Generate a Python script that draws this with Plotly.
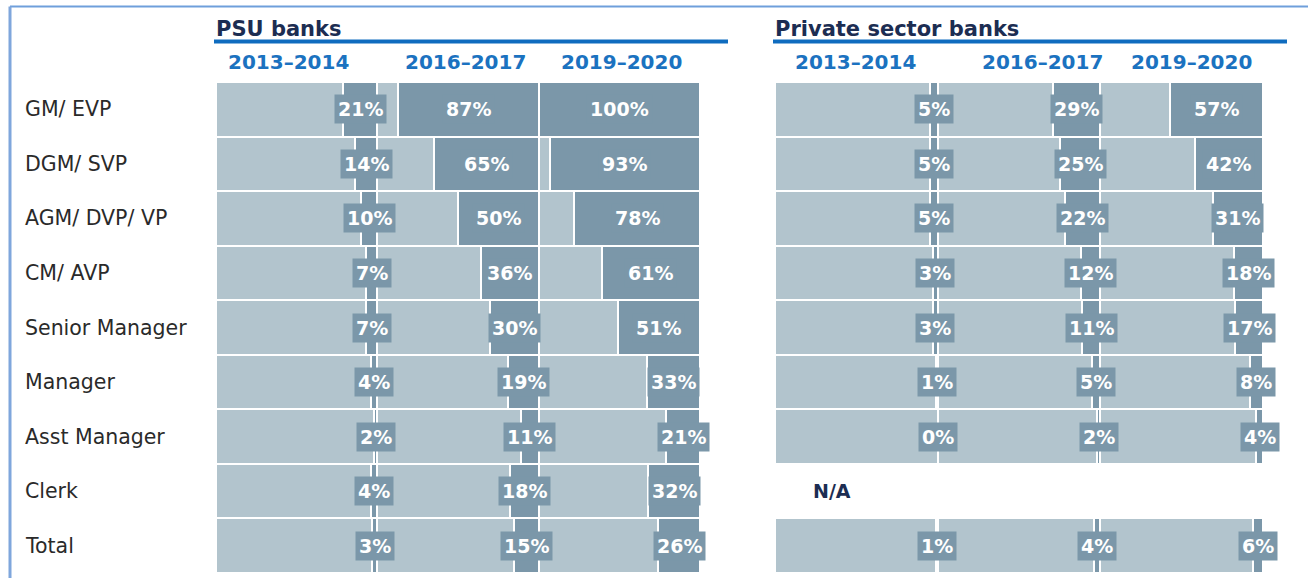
import plotly.graph_objects as go

rows = ["GM/ EVP", "DGM/ SVP", "AGM/ DVP/ VP", "CM/ AVP", "Senior Manager",
        "Manager", "Asst Manager", "Clerk", "Total"]
periods = ["2013–2014", "2016–2017", "2019–2020"]
panels = ["PSU banks", "Private sector banks"]

psu_2013 = [21, 14, 10, 7, 7, 4, 2, 4, 3]
psu_2016 = [87, 65, 50, 36, 30, 19, 11, 18, 15]
psu_2019 = [100, 93, 78, 61, 51, 33, 21, 32, 26]
pvt_2013 = [5, 5, 5, 3, 3, 1, 0, None, 1]
pvt_2016 = [29, 25, 22, 12, 11, 5, 2, None, 4]
pvt_2019 = [57, 42, 31, 18, 17, 8, 4, None, 6]

panel_data = [[psu_2013, psu_2016, psu_2019], [pvt_2013, pvt_2016, pvt_2019]]

LIGHT = "#b2c4cd"
DARK = "#7b97a9"
BLUE = "#1b72c0"
NAVY = "#1c2d52"
FONT = "DejaVu Sans"

W, H = 1308, 578
ML, MR, MT, MB = 216, 45, 82, 5
PW = W - ML - MR
PH = H - MT - MB


def px2x(px):
    return (px - ML) / PW


def py2y(py):
    return (H - MB - py) / PH


fig = go.Figure()
annotations = []
axes = ["x", "x2"]

for p, series in enumerate(panel_data):
    xa = axes[p]
    for j, vals in enumerate(series):
        ys = [r for r, v in zip(rows, vals) if v is not None]
        vv = [v / 100 for v in vals if v is not None]
        fig.add_trace(go.Bar(
            orientation="h", y=ys, x=[1] * len(ys), base=[j] * len(ys),
            marker=dict(color=LIGHT, line=dict(color="white", width=2)),
            xaxis=xa, yaxis="y", hoverinfo="skip", showlegend=False))
        fig.add_trace(go.Bar(
            orientation="h", y=ys, x=vv, base=[j + 1 - v for v in vv],
            marker=dict(color=DARK, line=dict(color="white", width=2)),
            xaxis=xa, yaxis="y", showlegend=False))
        for r, v in zip(ys, vv):
            annotations.append(dict(
                x=j + 1 - v / 2, y=r, xref=xa, yref="y",
                text="<b>%d%%</b>" % round(v * 100), showarrow=False,
                font=dict(family=FONT, size=19, color="white"),
                bgcolor=DARK, borderpad=3))

# row labels
for i, r in enumerate(rows):
    annotations.append(dict(
        x=px2x(23), y=r, xref="paper", yref="y", xanchor="left",
        text=r, showarrow=False, font=dict(family=FONT, size=20.5, color="#2a2a2a")))

# N/A marker for private Clerk
annotations.append(dict(
    x=px2x(811), y="Clerk", xref="paper", yref="y", xanchor="left",
    text="<b>N/A</b>", showarrow=False, font=dict(family=FONT, size=19, color=NAVY)))

# panel headers
header_x = [214, 773]
line_ext = [(214, 728), (773, 1287)]
for p, name in enumerate(panels):
    annotations.append(dict(
        x=px2x(header_x[p]), y=py2y(29), xref="paper", yref="paper",
        xanchor="left", yanchor="middle", text="<b>%s</b>" % name,
        showarrow=False, font=dict(family=FONT, size=21, color=NAVY)))

year_x = [[288, 465, 621], [855, 1042, 1191]]
for p in range(2):
    for j, per in enumerate(periods):
        annotations.append(dict(
            x=px2x(year_x[p][j]), y=py2y(62), xref="paper", yref="paper",
            xanchor="center", yanchor="middle", text="<b>%s</b>" % per,
            showarrow=False, font=dict(family=FONT, size=20, color=BLUE)))

shapes = []
for (a, b) in line_ext:
    shapes.append(dict(type="line", xref="paper", yref="paper",
                       x0=px2x(a), x1=px2x(b), y0=py2y(41.5), y1=py2y(41.5),
                       line=dict(color="#0f6cbf", width=4)))
# frame
shapes.append(dict(type="line", xref="paper", yref="paper",
                   x0=px2x(10), x1=px2x(1310), y0=py2y(6.5), y1=py2y(6.5),
                   line=dict(color="#6f9fdb", width=2)))
shapes.append(dict(type="line", xref="paper", yref="paper",
                   x0=px2x(10), x1=px2x(10), y0=py2y(6.5), y1=py2y(580),
                   line=dict(color="#7fa6dc", width=3)))

fig.update_layout(
    width=W, height=H,
    margin=dict(l=ML, r=MR, t=MT, b=MB),
    paper_bgcolor="white", plot_bgcolor="white",
    barmode="overlay", bargap=0,
    xaxis=dict(domain=[0, px2x(700)], range=[0, 3], visible=False, fixedrange=True),
    xaxis2=dict(domain=[px2x(775), 1], range=[0, 3], visible=False, anchor="y", fixedrange=True),
    yaxis=dict(categoryorder="array", categoryarray=rows, autorange="reversed",
               visible=False, range=[8.5, -0.5]),
    annotations=annotations, shapes=shapes,
    showlegend=False,
)

fig.write_html("out.html", config={"displayModeBar": False},
               post_script="document.body.style.margin='0px';document.body.style.overflow='hidden';")
